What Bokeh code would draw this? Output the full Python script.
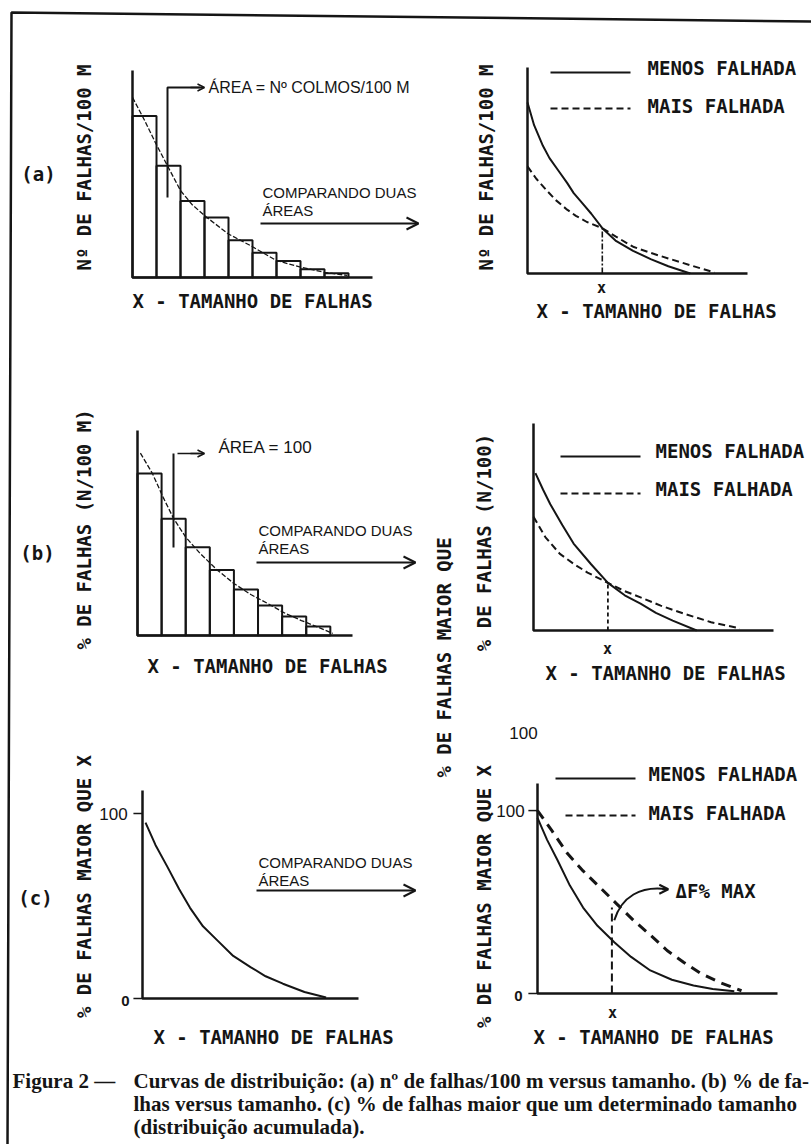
import math
from bokeh.plotting import figure
from bokeh.models import Range1d, Arrow, OpenHead
from bokeh.core.properties import value
from bokeh.embed import file_html
from bokeh.resources import INLINE

W, H = 811, 1144
INK = "#151515"
MONO = "DejaVu Sans Mono"
SANS = "Liberation Sans"
SERIF = "Liberation Serif"
MS = 19  # plotter-lettering size

# ---------------- data ----------------
# (a) left: histogram of n. of gaps / 100 m and fitted curve
a_bin_edges = [0, 1, 2, 3, 4, 5, 6, 7, 8, 9]
a_bar_heights = [78, 54, 37, 29, 18, 12, 8, 4, 2]
a_fit_x = [0, 0.5, 0.96, 1.5, 2.0, 2.5, 3.1, 4.0, 4.9, 6.0, 7.0, 8.0, 8.95]
a_fit_y = [87, 76, 65, 53, 42, 35, 29, 21, 15.5, 8.2, 5, 2.5, 1]

# (a) right: two distributions
a_less_x = [0, 0.3, 0.7, 1.0, 1.4, 1.8, 2.1, 2.5, 2.9, 3.4, 4.0, 4.8, 5.6, 6.4, 7.4]
a_less_y = [83, 72, 62, 56, 50, 44, 39, 34, 29, 22, 16, 11, 7, 3.5, 0]
a_more_x = [0, 0.4, 0.9, 1.3, 1.8, 2.2, 2.7, 3.4, 4.0, 4.8, 5.6, 6.4, 7.4, 8.5]
a_more_y = [52, 46, 40, 35.5, 31, 28, 25, 22, 18, 13, 10, 7.3, 4, 0.5]
a_cross = (3.4, 22)

# (b) left: histogram of % of gaps and fitted curve
b_bin_edges = [0, 1, 2, 3, 4, 5, 6, 7, 8]
b_bar_heights = [79, 57, 43, 32, 22.4, 14.6, 9.3, 4.4]
b_fit_x = [0.12, 0.62, 1.08, 1.5, 2.0, 2.6, 3.3, 4.0, 4.7, 5.4, 6.1, 6.8, 7.5, 8.1]
b_fit_y = [89, 79, 67, 57, 48, 40, 32, 25.4, 20, 15.6, 11, 7.3, 4, 1]

# (b) right
b_less_x = [0.08, 0.4, 0.7, 1.2, 1.67, 2.4, 3.1, 3.8, 4.46, 5.1, 5.8, 6.8]
b_less_y = [76, 68, 61, 51, 42, 32, 23, 17, 13, 8.5, 4.8, 0]
b_more_x = [0, 0.5, 1.1, 1.7, 2.25, 3.1, 3.8, 4.46, 5.3, 6.25, 7.4, 8.6]
b_more_y = [55, 45, 37, 32, 28, 23, 19, 16, 12, 8.2, 4, 1]
b_cross = (3.1, 23)

# (c) left: cumulative distribution (% larger than x)
c_cum_x = [0.14, 0.6, 1.16, 1.7, 2.2, 2.8, 3.5, 4.2, 5.0, 5.7, 6.5, 7.5, 8.5]
c_cum_y = [95, 83, 71, 59, 49, 39, 31, 23, 17, 12, 8, 3.5, 0.5]

# (c) right
c_less_x = [0, 0.4, 0.83, 1.35, 1.9, 2.5, 3.2, 3.9, 4.7, 5.6, 6.5, 7.3, 8.2]
c_less_y = [96, 84, 73, 59, 47, 37, 28, 20, 12.6, 7.5, 4.4, 2.5, 1.2]
c_more_x = [0, 0.6, 1.25, 1.9, 2.6, 3.3, 4.0, 4.7, 5.4, 6.1, 6.8, 7.6, 8.5]
c_more_y = [100, 89, 76.5, 67, 58, 49, 40, 32, 23.5, 17, 11, 6, 1.5]
c_dmax_x = 3.1
c_dmax_top = 47
c_ticks = [0, 100]
c_tick_labels = ["0", "100"]

legend_labels = ["MENOS FALHADA", "MAIS FALHADA"]
x_title = "X - TAMANHO DE FALHAS"

# ---------------- layout: panel frames in page pixels ----------------
panels = {
    "a1": dict(x0=132, x1=372, xmax=10, y0=277, y1=70, ymax=100),
    "a2": dict(x0=527, x1=747, xmax=10, y0=273, y1=67, ymax=100),
    "b1": dict(x0=137, x1=352, xmax=8.92, y0=635, y1=430, ymax=100),
    "b2": dict(x0=533, x1=773, xmax=10, y0=630, y1=423, ymax=100),
    "c1": dict(x0=142, x1=358, xmax=10, y0=998, y1=790, ymax=112.4),
    "c2": dict(x0=537, x1=777, xmax=10, y0=993, y1=783, ymax=114.8),
}

p = figure(width=W, height=H, x_range=Range1d(0, W), y_range=Range1d(H, 0),
           output_backend="svg", toolbar_location=None, min_border=0,
           x_axis_location=None, y_axis_location=None)
p.grid.visible = False
p.outline_line_color = None
p.background_fill_color = "white"
p.border_fill_color = "white"

for name, f in panels.items():
    sx = (f["x1"] - f["x0"]) / f["xmax"]
    sy = (f["y0"] - f["y1"]) / f["ymax"]
    p.extra_x_ranges[name] = Range1d(-f["x0"] / sx, (W - f["x0"]) / sx)
    p.extra_y_ranges[name] = Range1d((f["y0"] - H) / sy, f["y0"] / sy)


def R(name):
    return dict(x_range_name=name, y_range_name=name)


def txt(x, y, s, size, font=MONO, style="bold", align="left", baseline="middle", angle=0.0):
    p.text(x=[x], y=[y], text=[s], text_font=value(font), text_font_size=f"{size}px",
           text_font_style=style, text_align=align, text_baseline=baseline,
           angle=angle, text_color=INK)


# frame border of the scanned figure
p.line([7, 11, 811], [1144, 12, 21], line_color=INK, line_width=2.5)

# axes of every panel
for name, f in panels.items():
    p.line([0, 0, f["xmax"]], [f["ymax"], 0, 0], line_color=INK, line_width=2.5, **R(name))

# ---- (a) left ----
p.quad(left=a_bin_edges[:-1], right=a_bin_edges[1:], bottom=0, top=a_bar_heights,
       fill_color=None, line_color=INK, line_width=2, **R("a1"))
p.line(a_fit_x, a_fit_y, line_color=INK, line_width=1.3, line_dash="5 2", **R("a1"))

# ---- (b) left ----
p.quad(left=b_bin_edges[:-1], right=b_bin_edges[1:], bottom=0, top=b_bar_heights,
       fill_color=None, line_color=INK, line_width=2, **R("b1"))
p.line(b_fit_x, b_fit_y, line_color=INK, line_width=1.3, line_dash="5 2", **R("b1"))

# ---- (a) right ----
p.line(a_less_x, a_less_y, line_color=INK, line_width=2, **R("a2"))
p.line(a_more_x, a_more_y, line_color=INK, line_width=2, line_dash="7 4", **R("a2"))
p.line([a_cross[0], a_cross[0]], [0, a_cross[1]], line_color=INK, line_width=1.6,
       line_dash="6 2 2 2", **R("a2"))

# ---- (b) right ----
p.line(b_less_x, b_less_y, line_color=INK, line_width=2, **R("b2"))
p.line(b_more_x, b_more_y, line_color=INK, line_width=2, line_dash="7 4", **R("b2"))
p.line([b_cross[0], b_cross[0]], [0, b_cross[1]], line_color=INK, line_width=1.8,
       line_dash="4 3", **R("b2"))

# ---- (c) left ----
p.line(c_cum_x, c_cum_y, line_color=INK, line_width=2, **R("c1"))
for t in c_ticks:
    p.line([-0.42, 0], [t, t], line_color=INK, line_width=1.5, **R("c1"))

# ---- (c) right ----
p.line(c_less_x, c_less_y, line_color=INK, line_width=2, **R("c2"))
p.line(c_more_x, c_more_y, line_color=INK, line_width=3, line_dash="10 7", **R("c2"))
p.line([c_dmax_x, c_dmax_x], [0, c_dmax_top], line_color=INK, line_width=2,
       line_dash="8 4", **R("c2"))
for t in c_ticks:
    p.line([-0.38, 0], [t, t], line_color=INK, line_width=1.5, **R("c2"))
p.bezier(x0=[3.2], y0=[40], x1=[5.4], y1=[57], cx0=[3.5], cy0=[53], cx1=[4.3], cy1=[59],
         line_color=INK, line_width=2, **R("c2"))
p.add_layout(Arrow(end=OpenHead(size=9, line_width=2, line_color=INK),
                   x_start=5.2, y_start=57, x_end=5.45, y_end=57,
                   line_color=INK, line_width=2, **R("c2")))

# ---- "comparando duas áreas" arrows ----
for (ty, ay, tx, ax0, ax1) in [(192, 223, 262, 260, 418), (530, 562, 258, 256, 415),
                               (862, 890, 258, 256, 415)]:
    txt(tx, ty, "COMPARANDO DUAS", 15, font=SANS, style="normal")
    txt(tx, ty + 18, "ÁREAS", 15, font=SANS, style="normal")
    p.add_layout(Arrow(end=OpenHead(size=12, line_width=2, line_color=INK),
                       x_start=ax0, y_start=ay, x_end=ax1, y_end=ay,
                       line_color=INK, line_width=2))

# ---- area leaders ----
p.line([167, 167, 200], [197, 87, 87], line_color=INK, line_width=2)
p.add_layout(Arrow(end=OpenHead(size=7, line_width=1.5, line_color=INK),
                   x_start=190, y_start=87, x_end=204, y_end=87, line_color=INK, line_width=1.5))
txt(208, 87, "ÁREA = Nº COLMOS/100 M", 16, font=SANS, style="normal")

p.line([173, 173], [547, 453], line_color=INK, line_width=2)
p.line([177, 200], [453, 453], line_color=INK, line_width=1.5)
p.add_layout(Arrow(end=OpenHead(size=7, line_width=1.5, line_color=INK),
                   x_start=190, y_start=453, x_end=204, y_end=453, line_color=INK, line_width=1.5))
txt(218, 447, "ÁREA = 100", 17, font=SANS, style="normal")

# ---- legends ----
for (lx0, lx1, ys, yd, tx, tys, tyd, dx0) in [(550, 630, 72, 108, 647, 67, 105, 550),
                                               (560, 640, 456, 493, 655, 450, 488, 560),
                                               (555, 635, 778, 815, 648, 773, 812, 565)]:
    p.line([lx0, lx1], [ys, ys], line_color=INK, line_width=2)
    p.line([dx0, lx1], [yd, yd], line_color=INK, line_width=2, line_dash="7 4")
    txt(tx, tys, legend_labels[0], MS)
    txt(tx, tyd, legend_labels[1], MS)

# ---- panel tags ----
txt(38, 173, "(a)", MS, align="center")
txt(37, 552, "(b)", MS, align="center")
txt(35, 897, "(c)", MS, align="center")

# ---- axis titles ----
V = math.pi / 2
txt(83, 167, "Nº DE FALHAS/100 M", MS, align="center", angle=V)
txt(485, 167, "Nº DE FALHAS/100 M", MS, align="center", angle=V)
txt(83, 529, "% DE FALHAS (N/100 M)", MS, align="center", angle=V)
txt(483, 542, "% DE FALHAS (N/100)", MS, align="center", angle=V)
txt(443, 657, "% DE FALHAS MAIOR QUE", MS, align="center", angle=V)
txt(83, 886, "% DE FALHAS MAIOR QUE X", MS, align="center", angle=V)
txt(483, 896, "% DE FALHAS MAIOR QUE X", MS, align="center", angle=V)

for (cx, cy) in [(252, 300), (656, 310), (267, 665), (665, 672), (273, 1036), (653, 1036)]:
    txt(cx, cy, x_title, MS, align="center")

# crossing markers
for (cx, cy) in [(601, 287), (607, 648), (612, 1012)]:
    txt(cx, cy, "x", 15, align="center")

# tick labels
txt(113, 813, c_tick_labels[1], 17, font=SANS, style="normal", align="center")
txt(125, 1000, c_tick_labels[0], 15, font=SANS, style="bold", align="center")
txt(510, 810, c_tick_labels[1], 17, font=SANS, style="normal", align="center")
txt(518, 995, c_tick_labels[0], 15, font=SANS, style="bold", align="center")
txt(523, 732, c_tick_labels[1], 17, font=SANS, style="normal", align="center")

txt(675, 890, "ΔF% MAX", MS)

# ---- caption ----
txt(12, 1080, "Figura 2 —", 21, font=SERIF)
txt(133, 1080, "Curvas de distribuição: (a) nº de falhas/100 m versus tamanho. (b) % de fa-", 21, font=SERIF)
txt(133, 1103, "lhas versus tamanho. (c) % de falhas maior que um determinado tamanho", 21, font=SERIF)
txt(133, 1126, "(distribuição acumulada).", 21, font=SERIF)

open("out.html", "w").write(file_html(p, INLINE))
